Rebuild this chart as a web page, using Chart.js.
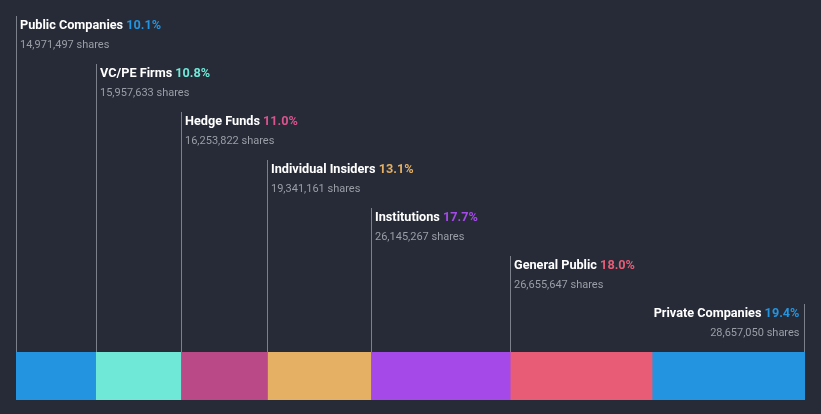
<!DOCTYPE html>
<html>
<head>
<meta charset="utf-8">
<script src="https://cdn.jsdelivr.net/npm/chart.js@4/dist/chart.umd.min.js"></script>
<style>
  html, body { margin: 0; padding: 0; background: #262b37; }
  #wrap { width: 821px; height: 414px; position: relative; }
</style>
</head>
<body>
<div id="wrap"><canvas id="chart"></canvas></div>
<script>
'use strict';

// Datos de propiedad
const categorias  = ['Public Companies', 'VC/PE Firms', 'Hedge Funds', 'Individual Insiders', 'Institutions', 'General Public', 'Private Companies'];
const porcentajes = [10.1, 10.8, 11.0, 13.1, 17.7, 18.0, 19.4];
const acciones    = ['14,971,497', '15,957,633', '16,253,822', '19,341,161', '26,145,267', '26,655,647', '28,657,050'];
const colores     = ['#2394df', '#6fe8d7', '#b94a87', '#e5b064', '#a54ae8', '#e85d75', '#2394df'];

const total = porcentajes.reduce((a, b) => a + b, 0);

/* Etiquetas y líneas guía encima de la barra */
const etiquetas = {
    id: 'etiquetas',
    afterDatasetsDraw(chart) {
        const ctx = chart.ctx;
        const n = categorias.length;
        ctx.save();
        for (let i = 0; i < n; i++) {
            const el = chart.getDatasetMeta(i).data[0];
            const ultimo = i === n - 1;
            const x = ultimo ? Math.round(el.x) - 0.5 : Math.round(el.base) + 0.5;
            const yTop = 16 + 48 * i;

            ctx.strokeStyle = '#7b808a';
            ctx.lineWidth = 1;
            ctx.beginPath();
            ctx.moveTo(x, yTop);
            ctx.lineTo(x, el.y - el.height / 2);
            ctx.stroke();

            const nombre = categorias[i] + ' ';
            const pct = porcentajes[i].toFixed(1) + '%';
            ctx.textBaseline = 'alphabetic';
            ctx.font = 'bold 12.7px Roboto';
            const wNombre = ctx.measureText(nombre).width;
            const wPct = ctx.measureText(pct).width;
            let tx = ultimo ? x - 5 - wNombre - wPct : x + 3.5;

            ctx.textAlign = 'left';
            ctx.fillStyle = '#ffffff';
            ctx.fillText(nombre, tx, yTop + 13);
            ctx.fillStyle = colores[i] === '#b94a87' ? '#d9548f' : colores[i];
            ctx.fillText(pct, tx + wNombre, yTop + 13);

            ctx.font = '11px Roboto';
            ctx.fillStyle = '#9a9ea6';
            const s = acciones[i] + ' shares';
            if (ultimo) {
                ctx.textAlign = 'right';
                ctx.fillText(s, x - 5, yTop + 32);
            } else {
                ctx.fillText(s, tx, yTop + 32);
            }
        }
        ctx.restore();
    }
};

new Chart(document.getElementById('chart'), {
    type: 'bar',
    data: {
        labels: ['Ownership'],
        datasets: categorias.map((c, i) => ({
            label: c,
            data: [porcentajes[i]],
            backgroundColor: colores[i],
            borderWidth: 0,
            barPercentage: 1,
            categoryPercentage: 1
        }))
    },
    options: {
        indexAxis: 'y',
        responsive: true,
        maintainAspectRatio: false,
        animation: false,
        layout: { padding: { top: 352, bottom: 14, left: 16, right: 16 } },
        plugins: { legend: { display: false }, tooltip: { enabled: false } },
        scales: {
            x: { stacked: true, min: 0, max: total, display: false },
            y: { stacked: true, display: false }
        }
    },
    plugins: [etiquetas]
});
</script>
</body>
</html>
